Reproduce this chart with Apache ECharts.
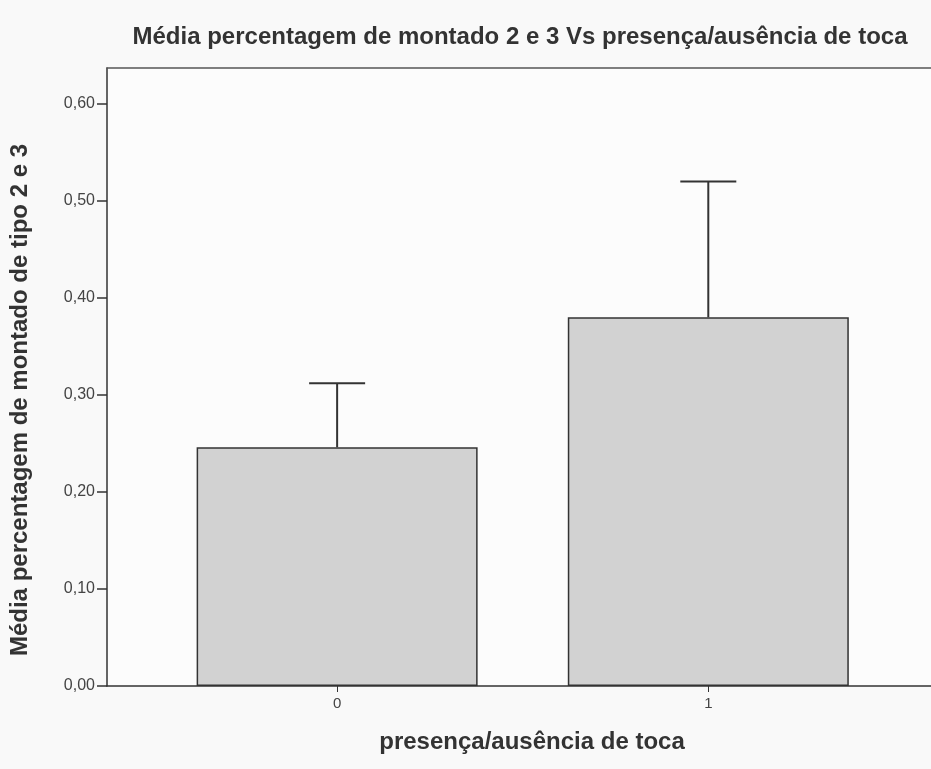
<!DOCTYPE html>
<html>
<head>
<meta charset="utf-8">
<script src="https://cdn.jsdelivr.net/npm/echarts@6/dist/echarts.min.js"></script>
<style>
  html, body { margin: 0; padding: 0; background: #f9f9f9; }
  #chart { width: 931px; height: 769px; }
</style>
</head>
<body>
<div id="chart"></div>
<script>
// presença/ausência de toca (0 = ausente, 1 = presente)
var categories = [0, 1];
var categoryLabels = ['0', '1'];
// média percentagem de montado tipo 2 e 3
var means = [0.246, 0.380];
// topo da barra de erro
var errorTops = [0.312, 0.520];
var yTicks = [0, 0.1, 0.2, 0.3, 0.4, 0.5, 0.6];

var fmt = function (v) { return v.toFixed(2).replace('.', ','); };
var font = 'Liberation Sans, Arial, sans-serif';
var xMin = -0.62, xMax = 1.6;

var chart = echarts.init(document.getElementById('chart'));
chart.setOption({
  backgroundColor: '#f9f9f9',
  animation: false,
  title: {
    text: 'Média percentagem de montado 2 e 3 Vs presença/ausência de toca',
    left: 515, top: 20, textAlign: 'center',
    textStyle: { fontFamily: font, fontSize: 24, fontWeight: 'bold', color: '#333' }
  },
  grid: {
    left: 107, top: 68, right: 0, bottom: 83,
    show: true, backgroundColor: '#fcfcfc', borderWidth: 0
  },
  xAxis: [
    {
      type: 'value', min: xMin, max: xMax,
      splitLine: { show: false },
      axisLine: { onZero: false, lineStyle: { color: '#333', width: 1.5 } },
      axisTick: { customValues: categories, length: 6, lineStyle: { color: '#333' } },
      axisLabel: {
        customValues: categories,
        formatter: function (v) { return categoryLabels[categories.indexOf(v)]; },
        fontFamily: font, fontSize: 15, color: '#444', margin: 10
      }
    },
    {
      // linha de topo da moldura
      type: 'value', position: 'top', min: xMin, max: xMax,
      splitLine: { show: false }, axisTick: { show: false }, axisLabel: { show: false },
      axisLine: { show: true, onZero: false, lineStyle: { color: '#555', width: 1.5 } }
    }
  ],
  yAxis: {
    type: 'value', min: 0, max: 0.637,
    splitLine: { show: false },
    axisLine: { show: true, onZero: false, lineStyle: { color: '#333', width: 1.5 } },
    axisTick: { show: true, customValues: yTicks, length: 10, lineStyle: { color: '#333', width: 1.5 } },
    axisLabel: {
      customValues: yTicks, formatter: fmt,
      fontFamily: font, fontSize: 16, color: '#444', margin: 12
    }
  },
  graphic: [
    {
      type: 'text', x: 20, y: 400, rotation: Math.PI / 2,
      style: {
        text: 'Média percentagem de montado de tipo 2 e 3',
        fontFamily: font, fontSize: 24, fontWeight: 'bold', fill: '#333',
        align: 'center', verticalAlign: 'middle'
      }
    },
    {
      type: 'text', x: 532, y: 742,
      style: {
        text: 'presença/ausência de toca',
        fontFamily: font, fontSize: 24, fontWeight: 'bold', fill: '#333',
        align: 'center', verticalAlign: 'middle'
      }
    }
  ],
  series: [
    {
      type: 'bar',
      barWidth: 281,
      data: categories.map(function (c, i) { return [c, means[i]]; }),
      itemStyle: { color: '#d2d2d2', borderColor: '#333', borderWidth: 1.5 }
    },
    {
      type: 'custom',
      data: categories.map(function (c, i) { return [c, means[i], errorTops[i]]; }),
      renderItem: function (params, api) {
        var base = api.coord([api.value(0), api.value(1)]);
        var top = api.coord([api.value(0), api.value(2)]);
        var half = 28;
        var style = { stroke: '#333', lineWidth: 2 };
        return {
          type: 'group',
          children: [
            { type: 'line', shape: { x1: base[0], y1: base[1], x2: top[0], y2: top[1] }, style: style },
            { type: 'line', shape: { x1: top[0] - half, y1: top[1], x2: top[0] + half, y2: top[1] }, style: style }
          ]
        };
      },
      z: 5
    }
  ]
});
</script>
</body>
</html>
